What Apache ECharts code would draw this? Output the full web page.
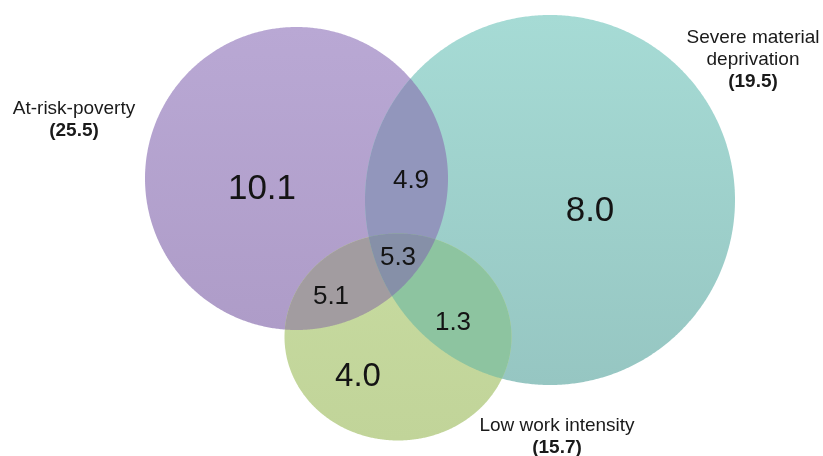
<!DOCTYPE html>
<html><head><meta charset="utf-8">
<script src="https://cdn.jsdelivr.net/npm/echarts@6/dist/echarts.min.js"></script>
<style>html,body{margin:0;padding:0;background:#fff}#c{width:823px;height:456px}</style>
</head><body><div id="c"></div>
<script>
// ---- Data ----
const setKeys = ['A', 'B', 'C'];
const setNames = ['At-risk-poverty', 'Severe material\ndeprivation', 'Low work intensity'];
const setTotals = [25.5, 19.5, 15.7];
const regionKeys = ['A', 'B', 'C', 'AB', 'AC', 'BC', 'ABC'];
const regionValues = [10.1, 8.0, 4.0, 4.9, 5.1, 1.3, 5.3];

// ---- Layout (axis units) ----
const circleLayout = {
  A: {cx: 296.5, cy: 178.5, rx: 151.5, ry: 151.5},
  B: {cx: 550, cy: 200, rx: 185, ry: 185},
  C: {cx: 398, cy: 337, rx: 113.5, ry: 103.5}
};
const regionLabelLayout = {
  A: {x: 262, y: 189, size: 35}, B: {x: 590, y: 211, size: 35}, C: {x: 358, y: 377, size: 33},
  AB: {x: 411, y: 181, size: 26}, AC: {x: 331, y: 297, size: 26},
  BC: {x: 453, y: 323, size: 26}, ABC: {x: 398, y: 258, size: 26}
};
const setLabelLayout = {A: {x: 74, y: 120}, B: {x: 753, y: 60}, C: {x: 557, y: 437}};
const labelLineHeight = 22;

// ---- Styles ----
const circleFill = {A: ['#B9A8D4', '#AE9CC8'], B: ['#A6DBD5', '#96C6C2'], C: ['#C7DBA0', '#C1D499']};
const overlapFill = {AB: '#9296BC', AC: '#A29CA0', BC: '#8DC4A0', ABC: '#8690A8'};
const FONT = '"Liberation Sans", Arial, sans-serif';

function pxEllipse(api, key) {
  const e = circleLayout[key];
  const c = api.coord([e.cx, e.cy]);
  const s = api.size([e.rx, e.ry]);
  return {cx: c[0], cy: c[1], rx: Math.abs(s[0]), ry: Math.abs(s[1])};
}
function inside(e, x, y) {
  const dx = (x - e.cx) / e.rx, dy = (y - e.cy) / e.ry;
  return dx * dx + dy * dy <= 1 + 1e-9;
}
function boundary(e, n) {
  const pts = [];
  for (let i = 0; i < n; i++) {
    const t = i / n * Math.PI * 2;
    pts.push([e.cx + e.rx * Math.cos(t), e.cy + e.ry * Math.sin(t)]);
  }
  return pts;
}
function intersection(api, keys) {
  const es = keys.map(k => pxEllipse(api, k));
  let pts = [];
  es.forEach((e, i) => {
    boundary(e, 1440).forEach(p => {
      if (es.every((o, j) => j === i || inside(o, p[0], p[1]))) pts.push(p);
    });
  });
  let mx = 0, my = 0;
  pts.forEach(p => { mx += p[0]; my += p[1]; });
  mx /= pts.length; my /= pts.length;
  pts.sort((a, b) => Math.atan2(a[1] - my, a[0] - mx) - Math.atan2(b[1] - my, b[0] - mx));
  return pts;
}

const chart = echarts.init(document.getElementById('c'), null, {renderer: 'canvas'});
const overlapKeys = regionKeys.filter(k => k.length > 1);

chart.setOption({
  animation: false,
  backgroundColor: '#ffffff',
  grid: {left: 0, right: 0, top: 0, bottom: 0},
  xAxis: {type: 'value', min: 0, max: 823, show: false},
  yAxis: {type: 'value', min: 0, max: 456, inverse: true, show: false},
  series: [
    {
      type: 'custom', coordinateSystem: 'cartesian2d', silent: true,
      data: setKeys.map((k, i) => [circleLayout[k].cx, circleLayout[k].cy, setTotals[i]]),
      renderItem: function (params, api) {
        const key = setKeys[params.dataIndex];
        const e = pxEllipse(api, key);
        return {
          type: 'polygon',
          shape: {points: boundary(e, 720)},
          style: {fill: new echarts.graphic.LinearGradient(0, 0, 0, 1, [
            {offset: 0, color: circleFill[key][0]}, {offset: 1, color: circleFill[key][1]}])}
        };
      }
    },
    {
      type: 'custom', coordinateSystem: 'cartesian2d', silent: true,
      data: overlapKeys.map(k => [regionLabelLayout[k].x, regionLabelLayout[k].y, regionValues[regionKeys.indexOf(k)]]),
      renderItem: function (params, api) {
        const key = overlapKeys[params.dataIndex];
        return {
          type: 'polygon',
          shape: {points: intersection(api, key.split(''))},
          style: {fill: overlapFill[key]}
        };
      }
    },
    {
      type: 'custom', coordinateSystem: 'cartesian2d', silent: true,
      data: regionKeys.map((k, i) => [regionLabelLayout[k].x, regionLabelLayout[k].y, regionValues[i]]),
      renderItem: function (params, api) {
        const key = regionKeys[params.dataIndex];
        const p = api.coord([api.value(0), api.value(1)]);
        return {
          type: 'text', x: p[0], y: p[1],
          style: {
            text: api.value(2).toFixed(1), fill: '#141414',
            font: regionLabelLayout[key].size + 'px ' + FONT,
            align: 'center', verticalAlign: 'middle'
          }
        };
      }
    },
    {
      type: 'custom', coordinateSystem: 'cartesian2d', silent: true,
      data: setKeys.map((k, i) => [setLabelLayout[k].x, setLabelLayout[k].y, setTotals[i]]),
      renderItem: function (params, api) {
        const i = params.dataIndex;
        const p = api.coord([api.value(0), api.value(1)]);
        const lines = setNames[i].split('\n').map(t => ({t: t, bold: false}));
        lines.push({t: '(' + api.value(2).toFixed(1) + ')', bold: true});
        const n = lines.length;
        return {
          type: 'group',
          children: lines.map((ln, j) => ({
            type: 'text', x: p[0], y: p[1] + (j - (n - 1) / 2) * labelLineHeight,
            style: {
              text: ln.t, fill: '#1a1a1a',
              font: (ln.bold ? 'bold ' : '') + '19px ' + FONT,
              align: 'center', verticalAlign: 'middle'
            }
          }))
        };
      }
    }
  ]
});
</script></body></html>
